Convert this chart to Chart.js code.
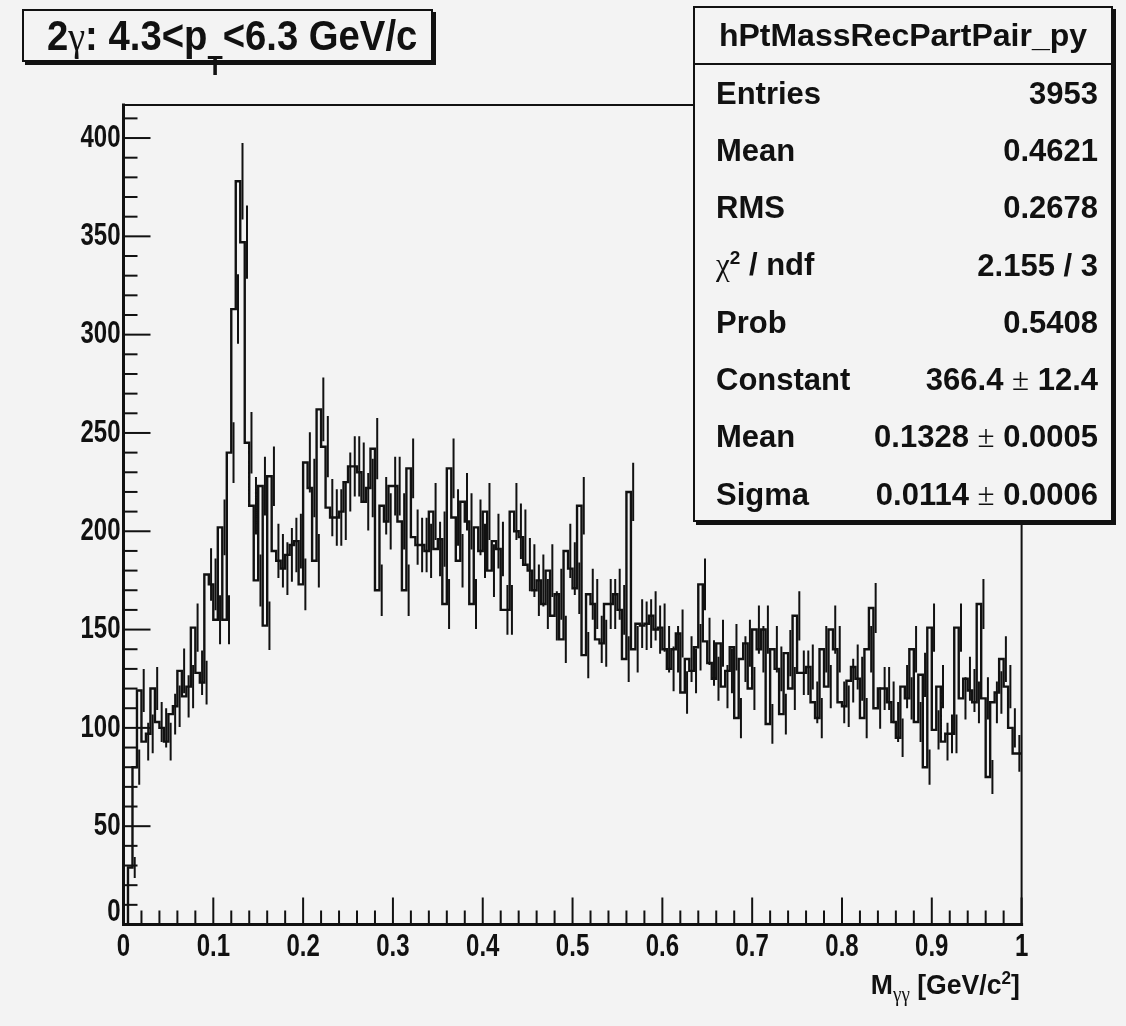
<!DOCTYPE html>
<html>
<head>
<meta charset="utf-8">
<title>hPtMassRecPartPair_py</title>
<script src="https://cdn.jsdelivr.net/npm/chart.js@4.4.0/dist/chart.umd.min.js"></script>
<style>
html,body{margin:0;padding:0;background:#f3f3f3;}
#wrap{position:relative;width:1126px;height:1026px;overflow:hidden;font-family:"Liberation Sans",Arial,sans-serif;font-weight:bold;color:#111;}
#cv{position:absolute;left:0;top:0;}
.box{position:absolute;box-sizing:border-box;border:2px solid #111;background:#f3f3f3;box-shadow:3px 3px 0 #111;z-index:2;}
.sym{font-family:"Liberation Serif","DejaVu Serif",serif;font-weight:normal;}
#ttl{left:22px;top:9px;width:411px;height:53px;line-height:49px;text-align:center;white-space:nowrap;}
#ttl .in{display:inline-block;font-size:43px;transform:scaleX(0.89);transform-origin:center;}
#ttl .sub{font-size:28px;position:relative;top:25px;}
#stats{left:693px;top:6px;width:420px;height:516px;font-size:31px;}
#stats .hd{height:55px;line-height:55px;text-align:center;border-bottom:2px solid #111;font-size:32px;}
#stats .row{height:57.3px;display:flex;justify-content:space-between;align-items:center;padding:0 13px 0 21px;white-space:nowrap;}
#stats sup{font-size:19px;}
#xttl{position:absolute;right:106px;top:968px;font-size:28px;white-space:nowrap;transform:scaleX(0.95);transform-origin:right;}
#xttl sub{font-size:20px;}
#xttl sup{font-size:18px;}
</style>
</head>
<body>
<div id="wrap">
  <canvas id="cv" width="1126" height="1026"></canvas>
  <div id="ttl" class="box"><span class="in">2<span class="sym">γ</span>: 4.3&lt;p<span class="sub">T</span>&lt;6.3 GeV/c</span></div>
  <div id="stats" class="box"></div>
  <div id="xttl">M<sub class="sym">γγ</sub> [GeV/c<sup>2</sup>]</div>
</div>
<script>
/* ─── DATA ──────────────────────────────────────────── */
// 200 bins of 0.005 GeV/c^2 between 0 and 1, counts
const X_MIN=0,X_MAX=1,BIN_W=0.005;
const counts=[
  0,0,29,80,119,93,97,120,103,100,93,107,111,129,116,121,151,128,123,178,
  173,155,202,155,240,313,378,347,245,213,175,223,152,228,190,185,181,188,193,195,
  173,235,222,185,262,243,212,207,207,210,225,233,233,230,215,222,242,170,213,205,
  223,223,205,170,232,197,193,193,190,210,191,196,163,232,207,185,215,205,163,202,
  190,210,180,195,191,160,160,210,200,197,183,180,170,175,163,180,157,168,145,190,
  181,171,213,137,168,163,145,143,163,163,168,160,135,220,140,153,152,153,157,150,
  151,140,130,140,148,118,135,129,141,173,144,133,125,143,121,129,141,105,135,143,
  120,150,140,150,102,140,130,107,138,120,157,128,128,131,113,105,140,121,150,140,
  113,111,124,131,125,105,140,161,110,120,120,113,103,95,121,115,140,103,127,80,
  151,99,121,93,97,97,151,115,125,119,113,163,115,75,113,118,135,121,100,87
];
const Y_MAX=416.8;
const xTicks=[0,0.1,0.2,0.3,0.4,0.5,0.6,0.7,0.8,0.9,1];
const xTickLabels=['0','0.1','0.2','0.3','0.4','0.5','0.6','0.7','0.8','0.9','1'];
const yTicks=[0,50,100,150,200,250,300,350,400];
const yTickLabels=['0','50','100','150','200','250','300','350','400'];
const statTitle='hPtMassRecPartPair_py';
const statNames=['Entries','Mean','RMS','<span class="sym">χ</span><sup>2</sup> / ndf','Prob','Constant','Mean','Sigma'];
const statVals=['3953','0.4621','0.2678','2.155 / 3','0.5408','366.4 <span class="sym">±</span> 12.4','0.1328 <span class="sym">±</span> 0.0005','0.0114 <span class="sym">±</span> 0.0006'];

/* ─── STATS BOX ─────────────────────────────────────── */
const sb=document.getElementById('stats');
sb.innerHTML=`<div class="hd">${statTitle}</div>`+statNames.map((n,i)=>`<div class="row"><span>${n}</span><span>${statVals[i]}</span></div>`).join('');

/* ─── HISTOGRAM POINTS ──────────────────────────────── */
// step outline: left edge of each bin, plus the closing right edge
const histPts=counts.map((c,i)=>({x:X_MIN+i*BIN_W,y:c}));
histPts.push({x:X_MAX,y:counts[counts.length-1]});
// Poisson error bars at bin centres, broken by nulls
const errPts=[];
counts.forEach((c,i)=>{
  if(c<=0)return;
  const xc=X_MIN+(i+0.5)*BIN_W,e=Math.sqrt(c);
  errPts.push({x:xc,y:c-e},{x:xc,y:c+e},{x:xc,y:null});
});

/* ─── ROOT-STYLE FRAME, TICKS, LABELS ───────────────── */
const LBL_SX=0.75; // ROOT's narrow bold helvetica
const rootAxes={id:'rootAxes',afterDatasetsDraw(ch){
  const {ctx,chartArea:a,scales:{x,y}}=ch;
  const ln=(x1,y1,x2,y2)=>{ctx.beginPath();ctx.moveTo(x1,y1);ctx.lineTo(x2,y2);ctx.stroke();};
  const txt=(s,px,py)=>{ctx.save();ctx.translate(px,py);ctx.scale(LBL_SX,1);ctx.fillText(s,0,0);ctx.restore();};
  ctx.save();
  ctx.strokeStyle='#111';ctx.lineCap='square';
  ctx.lineWidth=2;ctx.strokeRect(a.left,a.top,a.right-a.left,a.bottom-a.top);
  ctx.lineWidth=3;ln(a.left,a.top,a.left,a.bottom);ln(a.left,a.bottom,a.right,a.bottom);
  ctx.lineWidth=2;ctx.lineCap='butt';
  for(let v=0;v<=Y_MAX;v+=10){const py=y.getPixelForValue(v);ln(a.left,py,a.left+(v%50===0?27:14),py);}
  for(let i=0;i<=50;i++){const px=x.getPixelForValue(i*0.02);ln(px,a.bottom,px,a.bottom-(i%5===0?27:14));}
  ctx.fillStyle='#111';ctx.font='bold 32px "Liberation Sans",Arial,sans-serif';
  ctx.textAlign='right';ctx.textBaseline='middle';
  yTicks.forEach((v,i)=>{let py=y.getPixelForValue(v);if(v===0)py-=12;txt(yTickLabels[i],a.left-3,py);});
  ctx.textAlign='center';ctx.textBaseline='top';
  xTicks.forEach((v,i)=>txt(xTickLabels[i],x.getPixelForValue(v),a.bottom+7));
  ctx.restore();
}};

/* ─── CHART ─────────────────────────────────────────── */
new Chart(document.getElementById('cv'),{type:'line',
  data:{datasets:[
    {label:'hist',data:histPts,stepped:'after',borderColor:'#111',borderWidth:2.4,borderJoinStyle:'miter',pointRadius:0,fill:false},
    {label:'err',data:errPts,borderColor:'#111',borderWidth:2,pointRadius:0,spanGaps:false,fill:false}
  ]},
  options:{responsive:false,animation:false,devicePixelRatio:1,events:[],
    layout:{padding:{left:123.5,right:104.4,top:105,bottom:101.5}},
    plugins:{legend:{display:false},tooltip:{enabled:false}},
    scales:{x:{type:'linear',min:X_MIN,max:X_MAX,display:false},
            y:{type:'linear',min:0,max:Y_MAX,display:false}}},
  plugins:[rootAxes]});
</script>
</body>
</html>
